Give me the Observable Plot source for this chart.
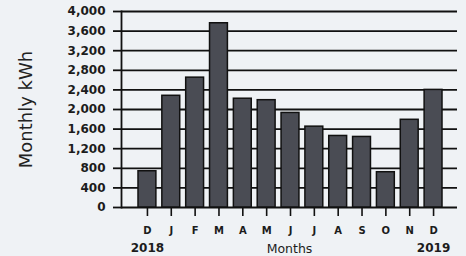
<!DOCTYPE html>
<html>
<head>
<meta charset="utf-8">
<script src="https://cdn.jsdelivr.net/npm/d3@7"></script>
<script src="https://cdn.jsdelivr.net/npm/@observablehq/plot@0.6"></script>
<style>
  html, body { margin: 0; padding: 0; background: #eff2f5; }
  svg { display: block; }
</style>
</head>
<body>
<div id="chart"></div>
<script>
const months = ["D","J","F","M","A","M","J","J","A","S","O","N","D"];
const kwh = [740, 2280, 2650, 3760, 2220, 2190, 1930, 1650, 1460, 1440, 720, 1790, 2400];
const yTicks = [0, 400, 800, 1200, 1600, 2000, 2400, 2800, 3200, 3600, 4000];
const years = ["2018", "2019"];
const xTitle = "Months";
const yTitle = "Monthly kWh";

const data = months.map((m, i) => ({i, m, v: kwh[i]}));
const yearData = [{i: 0, t: years[0]}, {i: months.length - 1, t: years[1]}];

const plot = Plot.plot({
  width: 466,
  height: 256,
  marginLeft: 121,
  marginRight: 9,
  marginTop: 11,
  marginBottom: 49,
  style: {background: "transparent", fontFamily: "DejaVu Sans", color: "#1c1c1c"},
  x: {type: "band", domain: d3.range(months.length), range: [138, 442], paddingInner: 0.25, paddingOuter: 0, round: false},
  y: {domain: [0, 4000]},
  marks: [
    Plot.ruleY(yTicks, {stroke: "#111", strokeWidth: 1.8}),
    Plot.frame({anchor: "left", stroke: "#111", strokeWidth: 1.8}),
    Plot.barY(data, {x: "i", y: "v", fill: "#4a4c54", stroke: "#111", strokeWidth: 1.5}),
    Plot.axisY({ticks: yTicks, tickSize: 8, tickPadding: 8, tickFormat: d3.format(","), label: null, fontSize: 12, fontWeight: "bold", strokeWidth: 1.8, stroke: "#111"}),
    Plot.axisX({tickSize: 9, tickPadding: 10, tickFormat: i => months[i], label: null, fontSize: 10, fontWeight: "bold", strokeWidth: 1.6, stroke: "#111"}),
    Plot.text(yearData, {x: "i", text: "t", frameAnchor: "bottom", lineAnchor: "middle", dy: 41, fontSize: 12, fontWeight: "bold", fill: "#1c1c1c"}),
    Plot.text([xTitle], {text: d => d, frameAnchor: "bottom", lineAnchor: "middle", dy: 41, fontSize: 12.5, fill: "#1c1c1c"}),
    Plot.text([yTitle], {text: d => d, frameAnchor: "left", textAnchor: "middle", lineAnchor: "middle", dx: -95, rotate: -90, fontSize: 18, fill: "#222"})
  ]
});
document.getElementById("chart").appendChild(plot);
</script>
</body>
</html>
